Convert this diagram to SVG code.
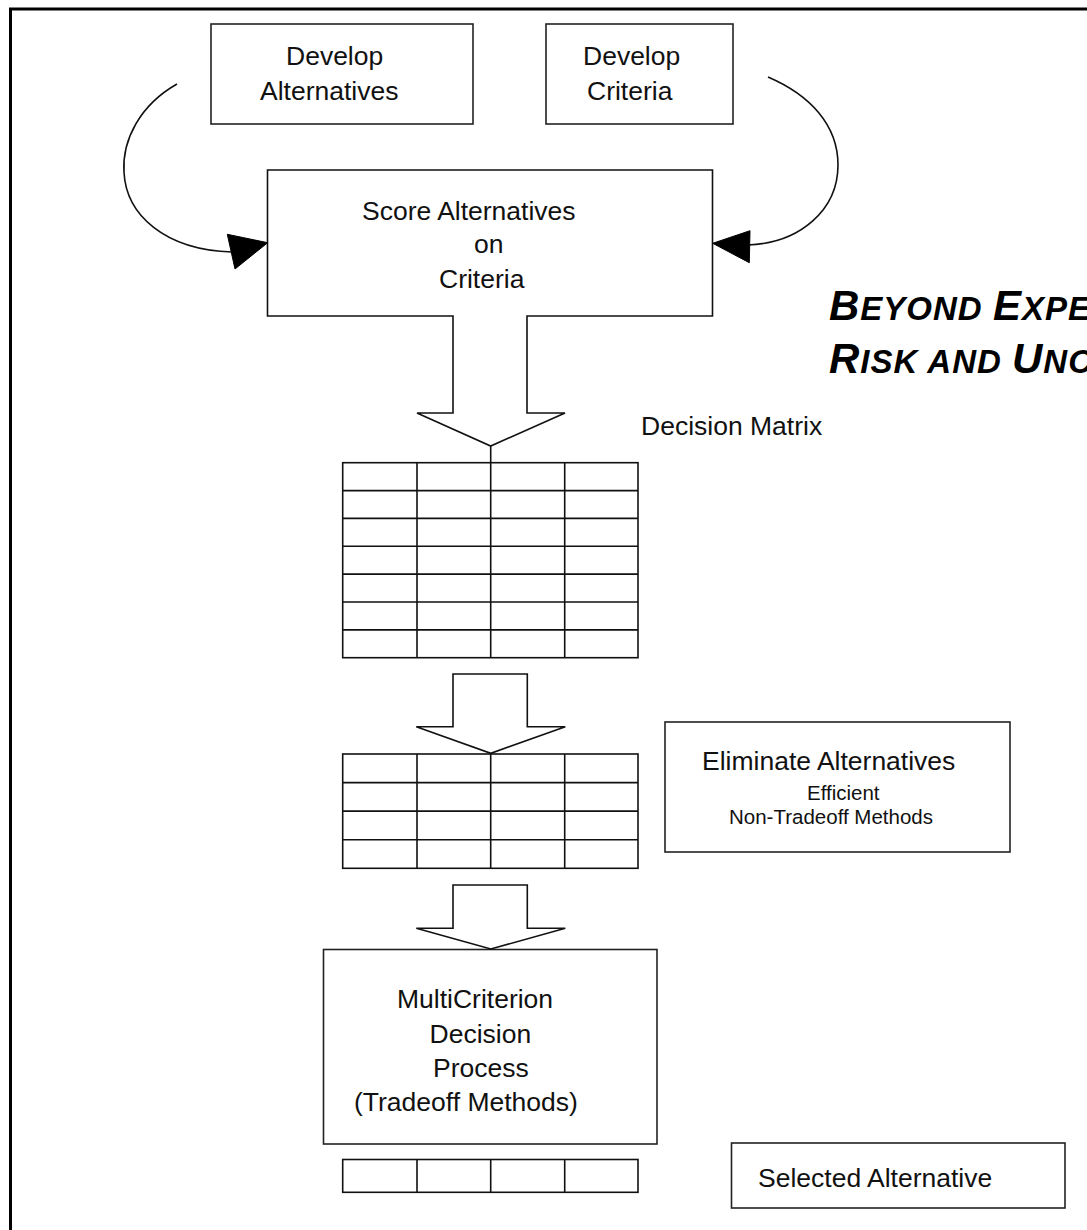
<svg xmlns="http://www.w3.org/2000/svg" width="1087" height="1230" viewBox="0 0 1087 1230">
<style>
.box{fill:#fff;stroke:#222;stroke-width:1.6}
.grid{fill:none;stroke:#111;stroke-width:1.6}
.arrow{fill:#fff;stroke:#111;stroke-width:1.6;stroke-linejoin:miter}
.curve{fill:none;stroke:#111;stroke-width:1.6}
.head{fill:#000;stroke:#000;stroke-width:1}
.t{font-family:"Liberation Sans",Arial,sans-serif;font-size:26.5px;fill:#111}
.s{font-family:"Liberation Sans",Arial,sans-serif;font-size:20.5px;fill:#111}
.title{font-family:"Liberation Sans",Arial,sans-serif;font-weight:bold;font-style:italic;fill:#000;letter-spacing:1px}
</style>
<rect width="1087" height="1230" fill="#fff"/>
<path d="M10.5,1230 L10.5,9 L1087,9" fill="none" stroke="#000" stroke-width="3"/>

<g id="develop-alternatives">
<rect class="box" x="211" y="24" width="262" height="100"/>
<text class="t" x="286" y="65">Develop</text>
<text class="t" x="260" y="100">Alternatives</text>
</g>

<g id="develop-criteria">
<rect class="box" x="546" y="24" width="187" height="100"/>
<text class="t" x="583" y="65">Develop</text>
<text class="t" x="587" y="100">Criteria</text>
</g>

<g id="score-alternatives">
<path class="arrow" d="M267.5,316 L267.5,170 L712.5,170 L712.5,316 L527,316 L527,413 L565,413 L490.7,446 L417,413 L453,413 L453,316 Z"/>
<text class="t" x="362" y="220">Score Alternatives</text>
<text class="t" x="474" y="253">on</text>
<text class="t" x="439" y="288">Criteria</text>
</g>

<g id="title">
<text class="title" x="829" y="320"><tspan font-size="42">B</tspan><tspan font-size="33">EYOND </tspan><tspan font-size="42">E</tspan><tspan font-size="33">XPE</tspan></text>
<text class="title" x="829" y="373"><tspan font-size="42">R</tspan><tspan font-size="33">ISK AND </tspan><tspan font-size="42">U</tspan><tspan font-size="33">NC</tspan></text>
</g>

<g id="decision-matrix">
<text class="t" x="641" y="435">Decision Matrix</text>
<rect class="grid" x="342.7" y="462.7" width="295.3" height="195"/>
<path class="grid" d="M417,462.7V657.7M490.7,446V657.7M564.7,462.7V657.7M342.7,490.6H638M342.7,518.4H638M342.7,546.3H638M342.7,574.1H638M342.7,602H638M342.7,629.9H638"/>
</g>

<g id="reduced-matrix">
<rect class="grid" x="342.7" y="754" width="295.3" height="114.3"/>
<path class="grid" d="M417,754V868.3M490.7,754V868.3M564.7,754V868.3M342.7,782.6H638M342.7,811.1H638M342.7,839.7H638"/>
</g>

<g id="eliminate-alternatives">
<rect class="box" x="665" y="722" width="345" height="130"/>
<text class="t" x="702" y="770">Eliminate Alternatives</text>
<text class="s" x="807" y="800">Efficient</text>
<text class="s" x="729" y="824">Non-Tradeoff Methods</text>
</g>

<g id="mcdp">
<rect class="box" x="323.5" y="949.5" width="333.5" height="194.5"/>
<text class="t" x="397" y="1008">MultiCriterion</text>
<text class="t" x="429.5" y="1043">Decision</text>
<text class="t" x="433" y="1077">Process</text>
<text class="t" x="354" y="1111">(Tradeoff Methods)</text>
</g>

<g id="final-row">
<rect class="grid" x="342.7" y="1159.5" width="295.3" height="32.8"/>
<path class="grid" d="M417,1159.5V1192.3M490.7,1159.5V1192.3M564.7,1159.5V1192.3"/>
</g>

<g id="selected-alternative">
<rect class="box" x="731.5" y="1143" width="333.5" height="65"/>
<text class="t" x="758" y="1187">Selected Alternative</text>
</g>

<g id="connectors">
<path class="curve" d="M177,84 C140,105 122,140 124,172 C126,215 165,250 232,252"/>
<polygon class="head" points="267.7,242.7 227.3,234.3 235,269"/>
<path class="curve" d="M768,77 C810,95 838,125 838,165 C838,210 800,243 748,245"/>
<polygon class="head" points="712.7,243.3 750,230.7 749.3,262.7"/>
<path class="arrow" d="M453,674 L527.3,674 L527.3,726.7 L565.3,726.7 L490.8,753.3 L416.3,726.7 L453,726.7 Z"/>
<path class="arrow" d="M453,885 L527.3,885 L527.3,928.3 L565.3,928.3 L490.8,949 L416.3,928.3 L453,928.3 Z"/>
</g>
</svg>
